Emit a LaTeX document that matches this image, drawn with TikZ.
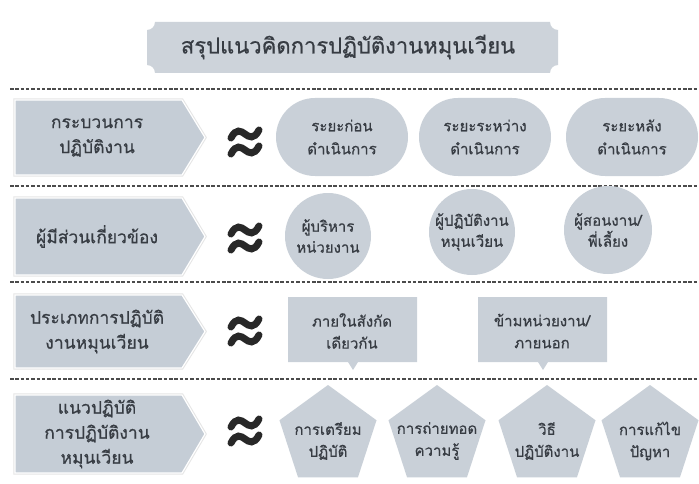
\documentclass[tikz,border=0pt]{standalone}
\usepackage{fontspec}
\setmainfont[Script=Thai, FakeBold=0.6]{Loma}
\usetikzlibrary{shapes.geometric}
\definecolor{boxfill}{RGB}{201,208,216}
\definecolor{leftfill}{RGB}{197,205,214}
\definecolor{bannerfill}{RGB}{205,211,218}
\definecolor{txt}{RGB}{55,60,67}
\definecolor{dashc}{RGB}{75,75,75}
\definecolor{signc}{RGB}{40,40,40}
\newcommand\myleftbox[4]{%
  \draw[leftsty] (15,#2) -- (182,#2) -- (205,{(#2+#3)/2}) -- (182,#3) -- (15,#3) -- cycle;
  \node[lefttxt] (#1) at (97,{(#2+#3)/2}) {#4};}
\newcommand\myapprox[1]{%
  \begin{scope}[shift={(245,#1)}]
    \draw[signsty] (-14,4) .. controls (-9,14) and (-4,11) .. (0,8) .. controls (4,5) and (9,2) .. (14,12);
    \draw[signsty] (-14,-12) .. controls (-9,-2) and (-4,-5) .. (0,-8) .. controls (4,-11) and (9,-14) .. (14,-4);
  \end{scope}}
\begin{document}
\begin{tikzpicture}[x=1pt,y=1pt,
  every node/.style={text=txt, align=center, inner sep=0pt, outer sep=0pt},
  leftsty/.style={fill=leftfill, draw=white, line width=1.2pt, preaction={draw=black!10, line width=3.2pt}},
  lefttxt/.style={font=\fontsize{17.5}{25}\selectfont},
  shapetxt/.style={font=\fontsize{15}{22}\selectfont},
  shapefill/.style={fill=boxfill, draw=none},
  stadium/.style={shapefill, rectangle, rounded corners=39pt, minimum width=132pt, minimum height=78pt, font=\fontsize{15}{23}\selectfont},
  circ/.style={shapefill, circle, font=\fontsize{15}{21}\selectfont},
  penta/.style={shapefill, regular polygon, regular polygon sides=5, minimum size=102pt},
  dashline/.style={draw=dashc, line width=1.1pt, dash pattern=on 3.5pt off 1.8pt},
  signsty/.style={draw=signc, line width=7pt, line cap=round}
]
\useasboundingbox (0,0) rectangle (699,483);
\fill[white] (0,0) rectangle (699,483);

% title banner
\fill[bannerfill] (147,453) -- (147,418) arc[start angle=90, end angle=0, radius=8]
  -- (550,410) arc[start angle=180, end angle=90, radius=8]
  -- (558,453) arc[start angle=270, end angle=180, radius=8]
  -- (155,461) arc[start angle=0, end angle=-90, radius=8] -- cycle;
\node[font=\fontsize{22}{26}\selectfont] (title) at (348,436) {สรุปแนวคิดการปฏิบัติงานหมุนเวียน};

% dashed separators
\coordinate (d1a) at (10,394); \coordinate (d1b) at (699,394);
\coordinate (d2a) at (10,297); \coordinate (d2b) at (699,297);
\coordinate (d3a) at (10,201); \coordinate (d3b) at (699,201);
\coordinate (d4a) at (10,104); \coordinate (d4b) at (699,104);
\draw[dashline] (d1a) -- (d1b);
\draw[dashline] (d2a) -- (d2b);
\draw[dashline] (d3a) -- (d3b);
\draw[dashline] (d4a) -- (d4b);

% left boxes
\myleftbox{l1}{383}{308}{กระบวนการ\\ปฏิบัติงาน}
\myleftbox{l2}{285}{208}{ผู้มีส่วนเกี่ยวข้อง}
\myleftbox{l3}{188}{115}{ประเภทการปฏิบัติ\\งานหมุนเวียน}
\myleftbox{l4}{88}{10}{แนวปฏิบัติ\\การปฏิบัติงาน\\หมุนเวียน}

% approx signs
\myapprox{341}
\myapprox{245}
\myapprox{152}
\myapprox{52}

% row 1: stadiums
\node[stadium] (s1) at (342,346) {ระยะก่อน\\ดำเนินการ};
\node[stadium] (s2) at (485,346) {ระยะระหว่าง\\ดำเนินการ};
\node[stadium] (s3) at (632,346) {ระยะหลัง\\ดำเนินการ};

% row 2: circles
\node[circ, minimum size=86pt] (c1) at (328,247) {ผู้บริหาร\\หน่วยงาน};
\node[circ, minimum size=86pt] (c2) at (472,251) {ผู้ปฏิบัติงาน\\หมุนเวียน};
\node[circ, minimum size=88pt] (c3) at (608,253) {ผู้สอนงาน/\\พี่เลี้ยง};

% row 3: callouts
\fill[boxfill] (288,186) -- (417,186) -- (417,121) -- (358,121) -- (353,113) -- (348,121) -- (288,121) -- cycle;
\node[shapetxt] (k1) at (352,152) {ภายในสังกัด\\เดียวกัน};
\fill[boxfill] (478,186) -- (607,186) -- (607,121) -- (548,121) -- (543,113) -- (538,121) -- (478,121) -- cycle;
\node[shapetxt] (k2) at (542,152) {ข้ามหน่วยงาน/\\ภายนอก};

% row 4: pentagons
\node[penta] (p1) at (328,47) {};
\node[penta] (p2) at (437,47) {};
\node[penta] (p3) at (547,47) {};
\node[penta] (p4) at (650,47) {};
\node[shapetxt] (t1) at ([yshift=-5pt]p1.center) {การเตรียม\\ปฏิบัติ};
\node[shapetxt] (t2) at ([yshift=-5pt]p2.center) {การถ่ายทอด\\ความรู้};
\node[shapetxt] (t3) at ([yshift=-5pt]p3.center) {วิธี\\ปฏิบัติงาน};
\node[shapetxt] (t4) at ([yshift=-5pt]p4.center) {การแก้ไข\\ปัญหา};
\end{tikzpicture}
\end{document}
